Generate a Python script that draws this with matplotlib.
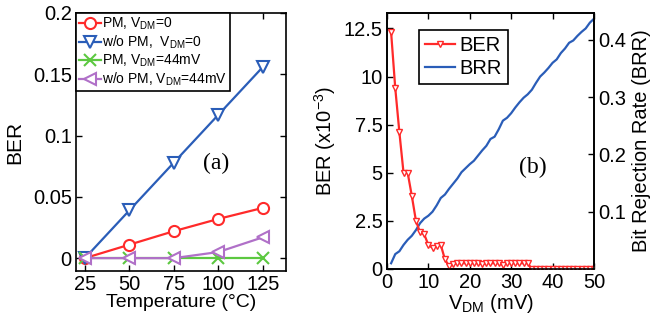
import matplotlib
matplotlib.use("Agg")
from matplotlib import pyplot as plt

plt.rcParams['font.family'] = ['Liberation Sans', 'DejaVu Sans']
plt.rcParams['mathtext.fontset'] = 'custom'
plt.rcParams['mathtext.rm'] = 'Liberation Sans'
plt.rcParams['mathtext.it'] = 'Liberation Sans'

###############################################################################
# Data for panel (a): BER vs temperature
temperature = [25, 50, 75, 100, 125]
ber_pm_0 = [0.0, 0.011, 0.022, 0.032, 0.041]
ber_nopm_0 = [0.0, 0.039, 0.078, 0.117, 0.156]
ber_pm_44 = [0.0, 0.0, 0.0, 0.0, 0.0]
ber_nopm_44 = [0.0, 0.0, 0.0, 0.005, 0.017]

###############################################################################
# Data for panel (b): BER and BRR vs V_DM
vdm = list(range(1, 51))
ber_vdm = [12.3, 9.4, 7.1, 5.0, 5.0, 3.8, 2.5, 1.9, 1.8, 1.25,
           1.1, 1.2, 1.25, 0.5, 0.15, 0.25, 0.3, 0.3, 0.3, 0.3,
           0.3, 0.3, 0.25, 0.3, 0.3, 0.3, 0.3, 0.2, 0.3, 0.3,
           0.3, 0.3, 0.3, 0.3, 0.0, 0.0, 0.0, 0.0, 0.0, 0.0,
           0.0, 0.0, 0.0, 0.0, 0.0, 0.0, 0.0, 0.0, 0.0, 0.0]
brr_vdm = [0.010, 0.026, 0.031, 0.042, 0.051, 0.058, 0.068, 0.080, 0.088, 0.093,
           0.100, 0.111, 0.124, 0.130, 0.140, 0.149, 0.158, 0.169, 0.176, 0.183,
           0.189, 0.198, 0.207, 0.215, 0.227, 0.231, 0.244, 0.259, 0.264, 0.272,
           0.282, 0.291, 0.299, 0.305, 0.313, 0.325, 0.336, 0.343, 0.351, 0.360,
           0.366, 0.377, 0.385, 0.395, 0.399, 0.407, 0.414, 0.420, 0.430, 0.437]

RED = '#ff2a2a'
BLUE = '#2a5db8'
GREEN = '#5cc840'
PURPLE = '#b070c8'

fig = plt.figure(figsize=(6.53, 3.2), dpi=100)

###############################################################################
# Panel (a)
ax1 = fig.add_axes([0.1164, 0.1531, 0.3216, 0.8063])
ax1.plot(temperature, ber_pm_0, '-o', color=RED, mfc='white', ms=8, mew=1.5, lw=1.6,
         label='PM, V$_{DM}$=0', zorder=3)
ax1.plot(temperature, ber_nopm_0, '-v', color=BLUE, mfc='white', ms=9, mew=1.5, lw=1.6,
         label='w/o PM,  V$_{DM}$=0', zorder=3)
ax1.plot(temperature, ber_pm_44, '-x', color=GREEN, ms=9, mew=1.5, lw=1.6,
         label='PM, V$_{DM}$=44mV', zorder=3)
ax1.plot(temperature, ber_nopm_44, '-<', color=PURPLE, mfc='white', ms=9, mew=1.5, lw=1.6,
         label='w/o PM, V$_{DM}$=44mV', zorder=3)
ax1.set_xlim(20, 138)
ax1.set_ylim(-0.0105, 0.2)
ax1.set_xticks([25, 50, 75, 100, 125])
ax1.set_yticks([0, 0.05, 0.1, 0.15, 0.2])
ax1.set_yticklabels(['0', '0.05', '0.1', '0.15', '0.2'])
ax1.set_xlabel('Temperature (°C)', fontsize=14, labelpad=0)
ax1.set_ylabel('BER', fontsize=15, labelpad=6)
ax1.tick_params(direction='in', top=True, right=True, labelsize=14.5, width=1, length=4, pad=3)
ax1.text(99, 0.0775, '(a)', family='Liberation Serif', fontsize=17, ha='center', va='center')
leg1 = ax1.legend(loc='upper left', fontsize=10, handlelength=1.6, handletextpad=0.1,
                  labelspacing=0.12, borderpad=0.2, borderaxespad=0.0, fancybox=False,
                  edgecolor='black', framealpha=1)
leg1.get_frame().set_linewidth(1.2)
for s in ax1.spines.values():
    s.set_linewidth(1.2)

###############################################################################
# Panel (b)
ax2 = fig.add_axes([0.5926, 0.1594, 0.317, 0.8])
ln1 = ax2.plot(vdm, ber_vdm, '-v', color=RED, mfc='white', ms=4.5, mew=1, lw=1.6, label='BER')
ax2.set_xlim(0, 50)
ax2.set_ylim(0, 13.3)
ax2.set_xticks([0, 10, 20, 30, 40, 50])
ax2.set_yticks([0, 2.5, 5, 7.5, 10, 12.5])
ax2.set_yticklabels(['0', '2.5', '5', '7.5', '10', '12.5'])
ax2.set_xlabel('V$_{DM}$ (mV)', fontsize=14.5, labelpad=0)
ax2.set_ylabel('BER (x10$^{-3}$)', fontsize=14.5, labelpad=4)
ax2.tick_params(direction='in', top=True, labelsize=14.5, width=1, length=4, pad=3)
ax2.text(35.3, 5.3, '(b)', family='Liberation Serif', fontsize=17, ha='center', va='center')

ax3 = ax2.twinx()
ln2 = ax3.plot(vdm, brr_vdm, '-', color=BLUE, lw=1.6, label='BRR')
ax3.set_ylim(0, 0.447)
ax3.set_yticks([0.1, 0.2, 0.3, 0.4])
ax3.set_yticklabels(['0.1', '0.2', '0.3', '0.4'])
ax3.set_ylabel('Bit Rejection Rate (BRR)', fontsize=14.5, labelpad=4)
ax3.tick_params(direction='in', labelsize=14.5, width=1, length=4, pad=3)
ax2.set_zorder(ax3.get_zorder() + 1)
ax2.patch.set_visible(False)

leg2 = ax2.legend(ln1 + ln2, ['BER', 'BRR'], loc='upper left', bbox_to_anchor=(0.155, 0.935),
                  fontsize=14.5, handlelength=1.5, handletextpad=0.2, labelspacing=0.2,
                  borderpad=0.3, borderaxespad=0.0, fancybox=False, edgecolor='black',
                  framealpha=1)
leg2.get_frame().set_linewidth(1.2)
for s in list(ax2.spines.values()) + list(ax3.spines.values()):
    s.set_linewidth(1.2)

fig.savefig('out.png', dpi=100)
